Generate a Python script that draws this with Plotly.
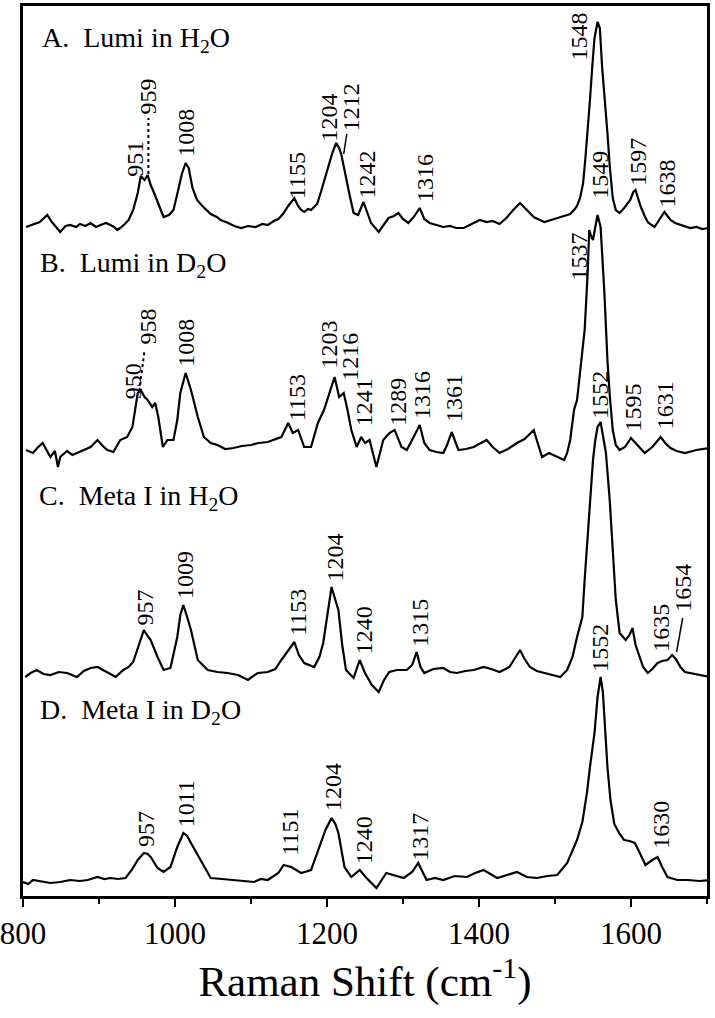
import plotly.graph_objects as go

# ---------------- data (wavenumber cm-1, relative intensity) ----------------
x_A = [804, 815, 822, 832, 838, 849, 856, 862, 870, 875, 882, 889, 896, 902, 909, 915, 920, 924, 928, 934,
       939, 945, 951, 955, 960, 964, 968, 972, 978, 985, 992, 998, 1003, 1009, 1014, 1018, 1023, 1029, 1036, 1047,
       1055, 1060, 1070, 1078, 1087, 1096, 1106, 1115, 1122, 1130, 1136, 1142, 1149, 1157, 1162, 1166, 1170, 1175,
       1179, 1187, 1192, 1197, 1202, 1207, 1212, 1216, 1219, 1223, 1226, 1230, 1235, 1241, 1248, 1253, 1258, 1268,
       1275, 1281, 1288, 1294, 1300, 1307, 1315, 1322, 1328, 1335, 1344, 1353, 1362, 1370, 1380, 1390, 1401, 1410,
       1418, 1427, 1436, 1445, 1454, 1463, 1472, 1480, 1486, 1495, 1507, 1514, 1520, 1525, 1529, 1533, 1537, 1540,
       1543, 1546, 1549, 1552, 1556, 1559, 1562, 1566, 1569, 1572, 1576, 1580, 1585, 1591, 1595, 1599, 1603, 1606,
       1610, 1613, 1618, 1622, 1627, 1631, 1637, 1644, 1648, 1652, 1658, 1665, 1672, 1678, 1686, 1694, 1702]
y_A = [1, 4, 6, 13, 6, -4, 2, 3, 1, 4, 2, 5, 1, 3, 5, 3, 1, -2, 0, 4,
       8, 18, 35, 52, 48, 53, 43, 36, 25, 11, 13, 18, 34, 54, 65, 60, 40, 28, 22, 14,
       11, 8, 5, 2, 0, 2, 1, 4, 3, 7, 9, 14, 22, 30, 22, 18, 16, 19,
       18, 24, 36, 48, 62, 75, 85, 80, 73, 58, 45, 32, 15, 13, 26, 15, 5, -4,
       4, 10, 12, 15, 9, 5, 12, 20, 9, 5, 3, 1, 2, 0, 0, 4, 8, 6,
       7, 4, 10, 18, 25, 18, 11, 8, 6, 8, 11, 13, 14, 18, 22, 30, 45, 70,
       95, 128, 161, 190, 206, 200, 161, 125, 95, 62, 30, 18, 15, 20, 24, 28, 36, 38,
       28, 21, 12, 6, 3, 1, 8, 16, 12, 8, 5, 3, 1, 0, 1, -1, 0]

x_B = [804, 813, 820, 826, 836, 842, 846, 849, 858, 865, 871, 880, 889, 898, 905, 911, 919, 928, 937, 944,
       951, 955, 960, 964, 970, 974, 978, 984, 990, 998, 1003, 1007, 1014, 1021, 1030, 1038, 1047, 1056, 1066, 1077,
       1088, 1100, 1110, 1122, 1132, 1140, 1149, 1155, 1162, 1170, 1179, 1188, 1196, 1203, 1210, 1216, 1222, 1227,
       1232, 1239, 1245, 1250, 1256, 1265, 1274, 1282, 1289, 1298, 1305, 1314, 1322, 1328, 1335, 1344, 1353, 1358,
       1364, 1373, 1383, 1393, 1402, 1410, 1418, 1427, 1438, 1450, 1460, 1472, 1478, 1483, 1492, 1503, 1512, 1516,
       1520, 1525, 1529, 1534, 1539, 1543, 1545, 1548, 1550, 1553, 1556, 1560, 1565, 1569, 1572, 1576, 1580, 1585,
       1592, 1600, 1608, 1618, 1628, 1639, 1645, 1652, 1660, 1671, 1686, 1704]
y_B = [5, 2, 8, 12, -2, 4, -12, -2, 4, 0, 2, 5, 8, 15, 9, 5, 3, 15, 18, 28,
       62, 65, 58, 55, 48, 52, 38, 8, 15, 15, 35, 62, 82, 65, 38, 18, 12, 10, 6, 7,
       9, 10, 12, 13, 16, 18, 32, 22, 25, 8, 8, 32, 45, 62, 78, 58, 62, 45,
       25, 8, 18, 12, 15, -12, 15, 22, 25, 8, 5, 18, 30, 12, 5, 3, 2, 10,
       23, 5, 6, 8, 12, 15, 8, 2, 6, 12, 16, 25, 10, -2, 2, -2, -5, 2,
       15, 45, 55, 90, 125, 182, 225, 218, 215, 228, 240, 228, 162, 95, 60, 25, 10, 5,
       8, 17, 10, 2, 8, 18, 12, 7, 4, 2, 5, 7]

x_C = [803, 810, 818, 827, 836, 847, 858, 865, 871, 880, 889, 898, 905, 911, 922, 932, 939, 945, 952, 959,
       963, 968, 977, 985, 994, 1003, 1007, 1011, 1016, 1021, 1030, 1043, 1056, 1069, 1083, 1096, 1103, 1109, 1122, 1132,
       1140, 1149, 1157, 1163, 1170, 1183, 1190, 1195, 1200, 1206, 1211, 1215, 1220, 1225, 1235, 1243, 1250, 1259,
       1268, 1275, 1282, 1292, 1305, 1312, 1318, 1323, 1328, 1340, 1353, 1362, 1371, 1382, 1393, 1406, 1416, 1427,
       1440, 1448, 1454, 1460, 1467, 1476, 1486, 1496, 1507, 1516, 1523, 1529, 1536, 1539, 1543, 1547, 1550, 1553,
       1556, 1560, 1563, 1567, 1572, 1576, 1580, 1585, 1593, 1598, 1602, 1606, 1611, 1616, 1622, 1628, 1635, 1641,
       1648, 1654, 1659, 1665, 1671, 1679, 1690, 1705]
y_C = [-2, 2, 5, 1, 0, 3, 2, 0, -2, 4, 7, 8, 5, 3, -2, 5, 8, 13, 30, 45,
       40, 35, 18, 5, 7, 38, 60, 70, 58, 45, 15, 5, 3, 2, 0, -5, -1, 2, 3, 6,
       15, 24, 33, 20, 12, 8, 18, 32, 58, 88, 75, 65, 30, 5, -3, 15, 2, -10,
       -17, -5, 3, 5, 5, 10, 23, 8, 2, 6, 7, 3, 2, 4, 5, 8, 6, 3,
       8, 18, 25, 16, 8, 4, 2, 0, -2, 5, 18, 38, 58, 95, 140, 180, 215, 235,
       248, 253, 240, 222, 175, 125, 75, 42, 35, 40, 47, 30, 18, 8, 2, 6, 12, 14,
       15, 20, 16, 8, 3, 2, 0, -2]

x_D = [800, 807, 813, 822, 836, 849, 862, 875, 885, 898, 907, 915, 925, 935, 943, 951, 959, 964, 968, 977,
       985, 994, 1003, 1011, 1016, 1021, 1034, 1047, 1062, 1077, 1090, 1104, 1113, 1122, 1136, 1143, 1153, 1166, 1179, 1190,
       1198, 1206, 1211, 1215, 1223, 1232, 1243, 1252, 1265, 1278, 1290, 1301, 1312, 1320, 1331, 1342, 1353, 1368, 1384, 1395,
       1406, 1415, 1424, 1437, 1450, 1463, 1476, 1490, 1503, 1516, 1529, 1536, 1542, 1546, 1552, 1556, 1560, 1563,
       1566, 1569, 1573, 1578, 1585, 1591, 1598, 1605, 1611, 1619, 1628, 1635, 1641, 1648, 1661, 1675, 1690, 1704]
y_D = [0, -2, 2, 1, -1, 0, 2, 1, 2, 5, 3, 4, 3, 4, 12, 22, 29, 28, 25, 14,
       10, 15, 35, 49, 46, 39, 22, 4, 3, 2, 1, 0, 3, 2, 9, 17, 15, 9, 12, 35,
       52, 64, 58, 49, 15, 5, 12, 4, -6, 9, 6, 4, 10, 19, 2, 4, 2, 6, 5, 9,
       12, 8, 4, 7, 10, 5, 4, 6, 7, 19, 42, 60, 89, 115, 149, 185, 205, 190,
       150, 115, 82, 58, 48, 42, 41, 39, 30, 17, 22, 25, 15, 5, 2, 2, 1, 2]

spectra_x = [x_A, x_B, x_C, x_D]
spectra_y = [y_A, y_B, y_C, y_D]
offsets = [668, 441, 221, 14]

panel_names = ["A.  Lumi in H<sub>2</sub>O", "B.  Lumi in D<sub>2</sub>O",
               "C.  Meta I in H<sub>2</sub>O", "D.  Meta I in D<sub>2</sub>O"]
panel_pos = [(822, 857), (820, 632), (818, 399), (820, 185)]

# peak labels: text, x, y (bottom of rotated text)
peak_labels = [
    ("951", 947, 718), ("959", 965, 781), ("1008", 1014, 738), ("1155", 1160, 696),
    ("1204", 1202, 753), ("1212", 1232, 764), ("1242", 1252, 696), ("1316", 1329, 693),
    ("1548", 1531, 834), ("1597", 1609, 709), ("1638", 1648, 688),
    ("950", 945, 496), ("958", 965, 551), ("1008", 1014, 528), ("1153", 1160, 474),
    ("1203", 1202, 526), ("1216", 1230, 514), ("1241", 1249, 469), ("1289", 1293, 469),
    ("1316", 1325, 476), ("1361", 1367, 473), ("1537", 1531, 614), ("1549", 1559, 696),
    ("1595", 1602, 463), ("1631", 1645, 466),
    ("957", 960, 269), ("1009", 1013, 296), ("1153", 1161, 259), ("1204", 1210, 313),
    ("1240", 1249, 241), ("1315", 1322, 248), ("1552", 1559, 476), ("1635", 1639, 243),
    ("1654", 1668, 283),
    ("957", 962, 48), ("1011", 1014, 68), ("1151", 1150, 39), ("1204", 1208, 84),
    ("1240", 1249, 31), ("1317", 1322, 34), ("1552", 1559, 223), ("1630", 1639, 46),
]

# connector lines (x0, y0, x1, y1, dash)
connectors = [
    (965, 722, 965, 778, "dot"),
    (953, 505, 960, 546, "dot"),
    (1226, 762, 1222, 742, "solid"),
    (1668, 278, 1660, 244, "solid"),
]

FONT = "Liberation Serif"

fig = go.Figure()
for xs, ys, off in zip(spectra_x, spectra_y, offsets):
    fig.add_trace(go.Scatter(x=xs, y=[v + off for v in ys], mode="lines",
                             line=dict(color="black", width=2.2), showlegend=False,
                             hoverinfo="skip"))

annotations = []
for txt, (px, py) in zip(panel_names, panel_pos):
    annotations.append(dict(x=px, y=py, xref="x", yref="y", text=txt, showarrow=False,
                            xanchor="left", yanchor="middle",
                            font=dict(family=FONT, size=28, color="black")))
for txt, px, py in peak_labels:
    annotations.append(dict(x=px, y=py, xref="x", yref="y", text=txt, showarrow=False,
                            textangle=-90, xanchor="center", yanchor="bottom",
                            borderpad=0,
                            font=dict(family=FONT, size=24, color="black")))

shapes = []
for x0, y0, x1, y1, dash in connectors:
    shapes.append(dict(type="line", xref="x", yref="y", x0=x0, y0=y0, x1=x1, y1=y1,
                       line=dict(color="black", width=1.5 if dash == "solid" else 2, dash=dash)))

fig.update_layout(
    width=715, height=1018,
    margin=dict(l=23, r=8, t=6, b=122),
    paper_bgcolor="white", plot_bgcolor="white",
    annotations=annotations, shapes=shapes,
    font=dict(family=FONT, color="black"),
    xaxis=dict(range=[800, 1700], tickvals=[800, 1000, 1200, 1400, 1600],
               automargin=False, ticklabeloverflow="allow",
               ticks="outside", ticklen=8, tickwidth=2, tickcolor="black",
               minor=dict(dtick=100, tick0=800, ticks="outside", ticklen=5, tickwidth=2, tickcolor="black"),
               showline=True, linecolor="black", linewidth=3, mirror=True,
               showgrid=False, zeroline=False,
               tickfont=dict(family=FONT, size=31, color="black"),
               title=dict(text="Raman Shift (cm<sup>-1</sup>)", standoff=14,
                          font=dict(family=FONT, size=43, color="black"))),
    yaxis=dict(range=[0, 890], showticklabels=False, ticks="", automargin=False,
               showline=True, linecolor="black", linewidth=3, mirror=True,
               showgrid=False, zeroline=False),
)

fig.write_html("out.html", config={"displayModeBar": False},
               post_script="document.body.style.margin='0';document.body.style.overflow='hidden';")
